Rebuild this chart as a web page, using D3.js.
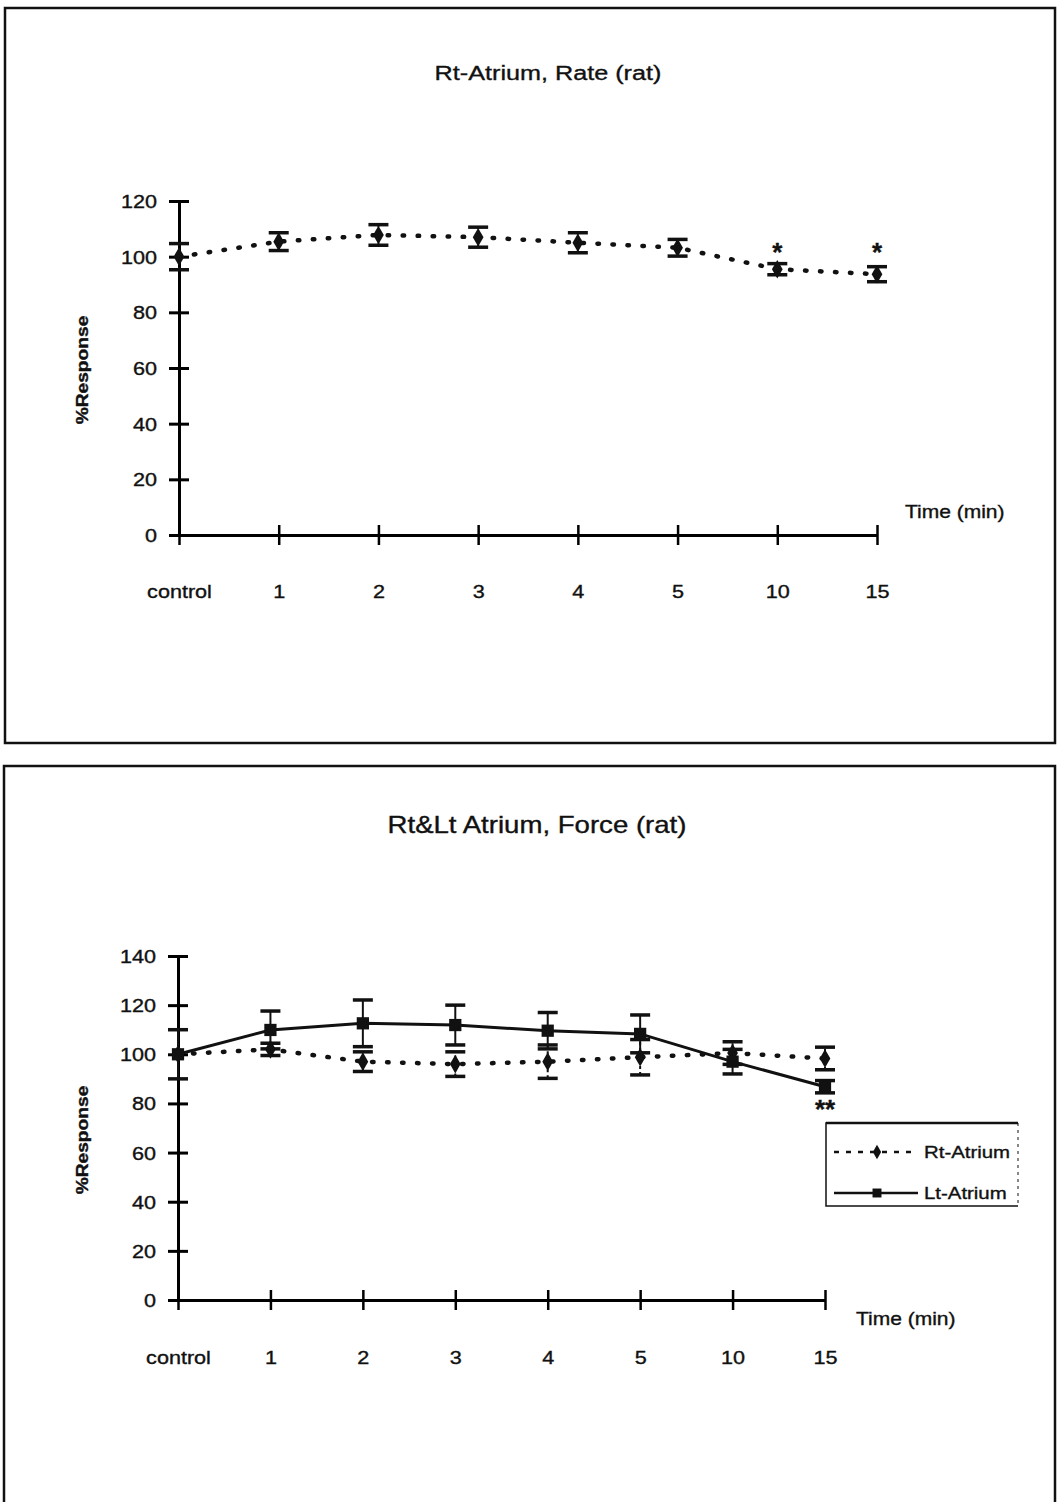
<!DOCTYPE html>
<html>
<head>
<meta charset="utf-8">
<script src="https://cdn.jsdelivr.net/npm/d3@7"></script>
<style>
  body { margin: 0; background: #fff; }
  text { font-family: "Liberation Sans", Arial, sans-serif; fill: #111; stroke: #111; stroke-width: 0.35px; }
</style>
</head>
<body>
<svg id="chart" width="1058" height="1502"></svg>
<script>
// ---- data ----
const timeLabels = ["control", "1", "2", "3", "4", "5", "10", "15"];

// Rt-Atrium, rate
const rateRtMean = [100, 105.4, 107.8, 107, 105, 103.2, 95.5, 93.7];
const rateRtErr  = [4.7, 3.2, 3.7, 3.6, 3.6, 3.0, 2.0, 2.7];
const rateSig    = ["", "", "", "", "", "", "*", "*"];
const rateTicks  = [0, 20, 40, 60, 80, 100, 120];

// Rt & Lt atrium, force
const forceRtMean = [100, 102, 97, 96, 97, 98.8, 100.5, 98.3];
const forceRtErr  = [0, 2.5, 4, 5, 6.8, 7.2, 4.6, 4.6];
const forceLtMean = [100, 109.9, 112.6, 111.9, 109.6, 108.3, 97, 86.8];
const forceLtErr  = [10, 7.7, 9.5, 8.1, 7.4, 7.7, 5, 2.5];
const forceSig    = ["", "", "", "", "", "", "", "**"];
const forceTicks  = [0, 20, 40, 60, 80, 100, 120, 140];

const seriesNames = ["Rt-Atrium", "Lt-Atrium"];

const svg = d3.select("#chart");
const stretch = 1.2; // scanned text is wider than the font

// panel frames
svg.append("rect").attr("x", 5).attr("y", 8).attr("width", 1050).attr("height", 735)
  .attr("fill", "none").attr("stroke", "#111").attr("stroke-width", 2.5);
svg.append("rect").attr("x", 4).attr("y", 766).attr("width", 1051).attr("height", 760)
  .attr("fill", "none").attr("stroke", "#111").attr("stroke-width", 2.5);

const dotted = { dash: "1.5 13.5", cap: "round", width: 4.5 };
const solid  = { dash: null, cap: "butt", width: 3 };

function sText(g, str, x, y, size, anchor, weight) {
  return g.append("text")
    .attr("transform", `translate(${x},${y}) scale(${stretch},1)`)
    .attr("text-anchor", anchor || "start")
    .attr("font-size", size)
    .attr("font-weight", weight || "normal")
    .text(str);
}

function drawChart(cfg) {
  const g = svg.append("g");
  const x = d3.scalePoint().domain(timeLabels).range(cfg.xRange);
  const y = d3.scaleLinear().domain([0, d3.max(cfg.ticks)]).range(cfg.yRange);
  const x0 = cfg.xRange[0], y0 = cfg.yRange[0];

  // title
  sText(g, cfg.title, cfg.titlePos[0], cfg.titlePos[1], cfg.titleSize, "middle");
  // y label
  g.append("text")
    .attr("transform", `translate(${cfg.yLabelPos[0]},${cfg.yLabelPos[1]}) rotate(-90) scale(${stretch},1)`)
    .attr("text-anchor", "middle").attr("font-size", 16).attr("font-weight", "bold")
    .text("%Response");
  // x label
  sText(g, "Time (min)", cfg.timePos[0], cfg.timePos[1], 17.5, "start");

  // y axis
  const gy = g.append("g").attr("transform", `translate(${x0},0)`)
    .call(d3.axisLeft(y).tickValues(cfg.ticks).tickSize(10).tickSizeOuter(0));
  gy.attr("font-family", null).attr("font-size", null);
  gy.select(".domain").attr("stroke-width", 3);
  gy.selectAll(".tick line").attr("x1", 10).attr("stroke-width", 3);
  gy.selectAll(".tick text").attr("x", 0).attr("dy", "0.36em").attr("font-size", 18)
    .attr("transform", `translate(-22,0) scale(${stretch},1)`);

  // x axis
  const gx = g.append("g").attr("transform", `translate(0,${y0})`)
    .call(d3.axisBottom(x).tickSize(10).tickSizeOuter(0));
  gx.attr("font-family", null).attr("font-size", null);
  gx.select(".domain").attr("stroke-width", 3);
  gx.selectAll(".tick line").attr("y1", -10).attr("stroke-width", 2.5);
  gx.selectAll(".tick text").attr("y", 0).attr("dy", null).attr("font-size", 18)
    .attr("transform", `translate(0,${cfg.xLabelOffset}) scale(${stretch},1)`);

  const line = d3.line().x((d, i) => x(timeLabels[i])).y(d => y(d));

  cfg.series.forEach(s => {
    g.append("path").datum(s.mean).attr("d", line)
      .attr("fill", "none").attr("stroke", "#111")
      .attr("stroke-width", s.style.width)
      .attr("stroke-dasharray", s.style.dash)
      .attr("stroke-linecap", s.style.cap);
  });

  cfg.series.forEach(s => {
    const eb = g.append("g");
    s.mean.forEach((m, i) => {
      const e = s.err[i];
      if (!e) return;
      const cx = x(timeLabels[i]);
      eb.append("line").attr("x1", cx).attr("x2", cx)
        .attr("y1", y(m - e)).attr("y2", y(m + e))
        .attr("stroke", "#111").attr("stroke-width", 2)
        .attr("stroke-dasharray", s.style.dash ? "3 3" : null);
      [m - e, m + e].forEach(v => {
        eb.append("line").attr("x1", cx - 10).attr("x2", cx + 10)
          .attr("y1", y(v)).attr("y2", y(v))
          .attr("stroke", "#111").attr("stroke-width", 3.5);
      });
    });
  });

  cfg.series.forEach(s => {
    g.append("g").selectAll("path").data(s.mean).join("path")
      .attr("transform", (d, i) => `translate(${x(timeLabels[i])},${y(d)})`)
      .attr("d", d3.symbol(s.symbol, s.size))
      .attr("fill", "#111");
  });

  // significance marks
  g.append("g").selectAll("text").data(cfg.sig).join("text")
    .attr("x", (d, i) => x(timeLabels[i]))
    .attr("y", cfg.sigY)
    .attr("text-anchor", "middle").attr("font-size", 26).attr("font-weight", "bold")
    .text(d => d);

  return { g, x, y };
}

drawChart({
  title: "Rt-Atrium, Rate (rat)",
  titleSize: 21,
  titlePos: [548, 80],
  yLabelPos: [88, 370],
  timePos: [905, 518],
  xRange: [179, 877],
  yRange: [535, 201],
  ticks: rateTicks,
  xLabelOffset: 63,
  series: [
    { mean: rateRtMean, err: rateRtErr, style: dotted, symbol: d3.symbolDiamond, size: 100 }
  ],
  sig: rateSig,
  sigY: 261
});

drawChart({
  title: "Rt&Lt Atrium, Force (rat)",
  titleSize: 23,
  titlePos: [537, 833],
  yLabelPos: [88, 1140],
  timePos: [856, 1325],
  xRange: [178, 825],
  yRange: [1300, 956],
  ticks: forceTicks,
  xLabelOffset: 64,
  series: [
    { mean: forceRtMean, err: forceRtErr, style: dotted, symbol: d3.symbolDiamond, size: 100 },
    { mean: forceLtMean, err: forceLtErr, style: solid, symbol: d3.symbolSquare, size: 150 }
  ],
  sig: forceSig,
  sigY: 1118
});

// legend
const lg = svg.append("g");
lg.append("path").attr("d", "M1018,1123 H826 V1206 H1018")
  .attr("fill", "none").attr("stroke", "#111").attr("stroke-width", 1.5);
lg.append("line").attr("x1", 826).attr("x2", 1018).attr("y1", 1123).attr("y2", 1123)
  .attr("stroke", "#111").attr("stroke-width", 2.5);
lg.append("line").attr("x1", 1018).attr("x2", 1018).attr("y1", 1123).attr("y2", 1206)
  .attr("stroke", "#111").attr("stroke-width", 1).attr("stroke-dasharray", "3 4");

const legendRows = [
  { name: seriesNames[0], y: 1152, dash: "5 7", symbol: d3.symbolDiamond, size: 60 },
  { name: seriesNames[1], y: 1193, dash: null, symbol: d3.symbolSquare, size: 80 }
];
legendRows.forEach(r => {
  lg.append("line").attr("x1", 834).attr("x2", 918).attr("y1", r.y).attr("y2", r.y)
    .attr("stroke", "#111").attr("stroke-width", 2.5).attr("stroke-dasharray", r.dash);
  lg.append("path").attr("transform", `translate(877,${r.y})`)
    .attr("d", d3.symbol(r.symbol, r.size)).attr("fill", "#111");
  sText(lg, r.name, 924, r.y + 6, 17, "start");
});
</script>
</body>
</html>
